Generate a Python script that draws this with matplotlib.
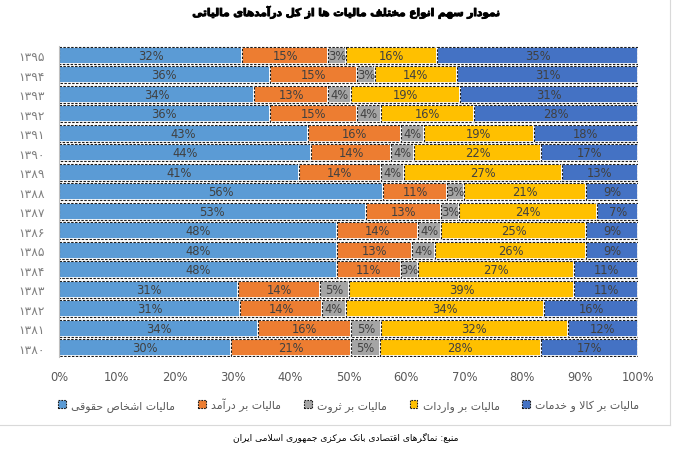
import numpy as np
import matplotlib
matplotlib.use('Agg')
from matplotlib import pyplot as plt
from matplotlib import patheffects
from matplotlib.patches import Patch
from matplotlib.lines import Line2D

# سال ها (از بالا به پایین)
years = ['۱۳۹۵', '۱۳۹۴', '۱۳۹۳', '۱۳۹۲', '۱۳۹۱', '۱۳۹۰', '۱۳۸۹', '۱۳۸۸',
         '۱۳۸۷', '۱۳۸۶', '۱۳۸۵', '۱۳۸۴', '۱۳۸۳', '۱۳۸۲', '۱۳۸۱', '۱۳۸۰']

legal_persons = [32, 36, 34, 36, 43, 44, 41, 56, 53, 48, 48, 48, 31, 31, 34, 30]
income = [15, 15, 13, 15, 16, 14, 14, 11, 13, 14, 13, 11, 14, 14, 16, 21]
wealth = [3, 3, 4, 4, 4, 4, 4, 3, 3, 4, 4, 3, 5, 4, 5, 5]
imports = [16, 14, 19, 16, 19, 22, 27, 21, 24, 25, 26, 27, 39, 34, 32, 28]
goods_services = [35, 31, 31, 28, 18, 17, 13, 9, 7, 9, 9, 11, 11, 16, 12, 17]

series_names = ['مالیات اشخاص حقوقی', 'مالیات بر درآمد', 'مالیات بر ثروت',
                'مالیات بر واردات', 'مالیات بر کالا و خدمات']
colors = ['#5B9BD5', '#ED7D31', '#A5A5A5', '#FFC000', '#4472C4']

title = 'نمودار سهم انواع مختلف مالیات ها از کل درآمدهای مالیاتی'
source = 'منبع: نماگرهای اقتصادی بانک مرکزی جمهوری اسلامی ایران'

# شکل دادن حروف فارسی (matplotlib خودش اتصال و راست به چپ را انجام نمی دهد)
_forms_txt = """ا FE8D FE8E
آ FE81 FE82
ب FE8F FE90 FE91 FE92
پ FB56 FB57 FB58 FB59
ت FE95 FE96 FE97 FE98
ث FE99 FE9A FE9B FE9C
ج FE9D FE9E FE9F FEA0
چ FB7A FB7B FB7C FB7D
ح FEA1 FEA2 FEA3 FEA4
خ FEA5 FEA6 FEA7 FEA8
د FEA9 FEAA
ذ FEAB FEAC
ر FEAD FEAE
ز FEAF FEB0
ژ FB8A FB8B
س FEB1 FEB2 FEB3 FEB4
ش FEB5 FEB6 FEB7 FEB8
ص FEB9 FEBA FEBB FEBC
ض FEBD FEBE FEBF FEC0
ط FEC1 FEC2 FEC3 FEC4
ظ FEC5 FEC6 FEC7 FEC8
ع FEC9 FECA FECB FECC
غ FECD FECE FECF FED0
ف FED1 FED2 FED3 FED4
ق FED5 FED6 FED7 FED8
ک FB8E FB8F FB90 FB91
گ FB92 FB93 FB94 FB95
ل FEDD FEDE FEDF FEE0
م FEE1 FEE2 FEE3 FEE4
ن FEE5 FEE6 FEE7 FEE8
ه FEE9 FEEA FEEB FEEC
و FEED FEEE
ی FBFC FBFD FBFE FBFF"""
FORMS = {}
for line in _forms_txt.splitlines():
    p = line.split()
    g = [chr(int(h, 16)) for h in p[1:]]
    if len(g) == 2:
        g += [None, None]
    FORMS[p[0]] = g
LAM_ALEF = {'ا': ('\uFEFB', '\uFEFC'), 'آ': ('\uFEF5', '\uFEF6')}


def fa(s):
    out = []
    n = len(s)
    i = 0
    while i < n:
        c = s[i]
        if c not in FORMS:
            out.append(c)
            i += 1
            continue
        prev = s[i - 1] if i > 0 else ''
        cp = prev in FORMS and FORMS[prev][2] is not None
        if c == 'ل' and i + 1 < n and s[i + 1] in LAM_ALEF:
            lig = LAM_ALEF[s[i + 1]]
            out.append(lig[1] if cp else lig[0])
            i += 2
            continue
        nxt = s[i + 1] if i + 1 < n else ''
        cn = FORMS[c][2] is not None and nxt in FORMS
        iso, fin, ini, med = FORMS[c]
        if cp and cn:
            out.append(med)
        elif cp:
            out.append(fin)
        elif cn:
            out.append(ini)
        else:
            out.append(iso)
        i += 1
    return ''.join(reversed(out))


plt.rcParams['font.family'] = ['DejaVu Sans']

data = np.array([legal_persons, income, wealth, imports, goods_services], dtype=float)
shares = data / data.sum(axis=0) * 100
y = np.arange(len(years))

fig = plt.figure(figsize=(6.81, 4.56), dpi=100)
ax = fig.add_axes([59 / 681, 1 - 358.3 / 456, (638 - 59) / 681, (358.3 - 46.7) / 456])

left = np.zeros(len(years))
for k in range(5):
    ax.barh(y, shares[k], left=left, height=0.87, color=colors[k],
            edgecolor='white', linewidth=1.3)
    ax.barh(y, shares[k], left=left, height=0.87, fill=False,
            edgecolor='#1a1a1a', linewidth=0.8, linestyle=(0, (2.2, 1.3)))
    for j in range(len(years)):
        ax.text(left[j] + shares[k][j] / 2, y[j], '%d%%' % data[k][j],
                ha='center', va='center', fontsize=8.3, color='#404040')
    left += shares[k]

ax.set_xlim(0, 100)
ax.set_ylim(len(years) - 0.5, -0.5)
ax.set_xticks(np.arange(0, 101, 10))
ax.set_xticklabels(['%d%%' % v for v in range(0, 101, 10)])
ax.set_yticks(y)
ax.set_yticklabels(years)
ax.tick_params(axis='x', length=0, pad=9, labelsize=8.3, labelcolor='#595959')
ax.tick_params(axis='y', length=0, pad=10, labelsize=8.8, labelcolor='#7f7f7f')
for s in ['top', 'right', 'bottom']:
    ax.spines[s].set_visible(False)
ax.spines['left'].set_color('#bfbfbf')
ax.spines['left'].set_linewidth(0.8)

handles = [Patch(facecolor=colors[k], edgecolor='#1a1a1a', linewidth=0.8,
                 linestyle=(0, (1.5, 1))) for k in range(5)]
fig.legend(handles, [fa(t) for t in series_names], loc='center',
           bbox_to_anchor=(349 / 681, 1 - 405 / 456), ncol=5, frameon=False,
           fontsize=7.8, labelcolor='#595959', handlelength=0.7, handleheight=0.7,
           handletextpad=0.5, columnspacing=2.1)

fig.text(345 / 681, 1 - 13 / 456, fa(title), ha='center', va='center',
         fontsize=7.6, fontweight='bold', color='black',
         path_effects=[patheffects.withStroke(linewidth=0.7, foreground='black')])
fig.text(346 / 681, 1 - 437 / 456, fa(source), ha='center', va='center',
         fontsize=6.6, color='black')

# قاب نمودار
fig.add_artist(Line2D([670 / 681, 670 / 681], [1 - 426 / 456, 1], color='#d9d9d9', lw=0.8))
fig.add_artist(Line2D([0, 670 / 681], [1 - 426 / 456, 1 - 426 / 456], color='#d9d9d9', lw=0.8))

fig.savefig('out.png', dpi=100)
